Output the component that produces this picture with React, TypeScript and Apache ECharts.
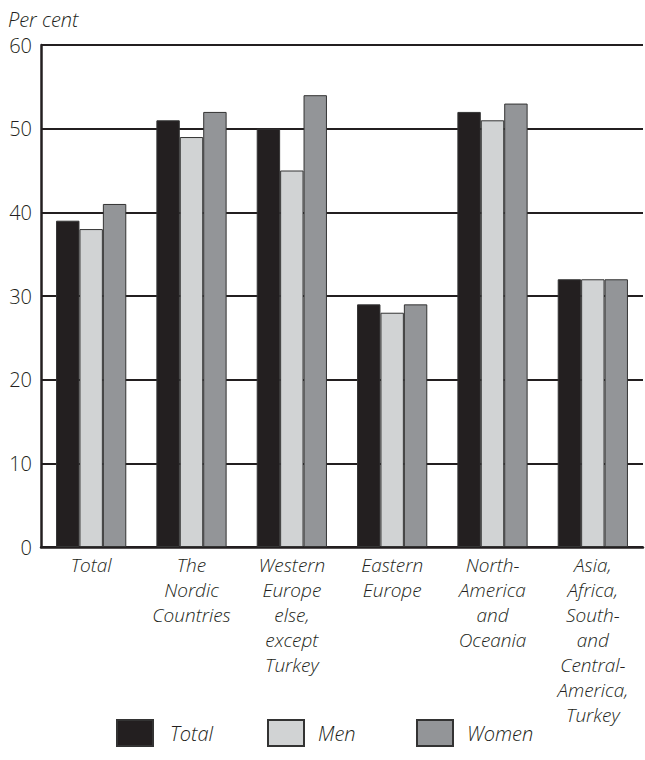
import React, { useEffect, useRef } from "react";
import * as echarts from "echarts";

const categories = [
  "Total",
  "The\nNordic\nCountries",
  "Western\nEurope\nelse,\nexcept\nTurkey",
  "Eastern\nEurope",
  "North-\nAmerica\nand\nOceania",
  "Asia,\nAfrica,\nSouth-\nand\nCentral-\nAmerica,\nTurkey",
];
const totalValues = [39, 51, 50, 29, 52, 32];
const menValues = [38, 49, 45, 28, 51, 32];
const womenValues = [41, 52, 54, 29, 53, 32];
const seriesNames = ["Total", "Men", "Women"];
const yTicks = { min: 0, max: 60, interval: 10 };

const FONT = "'Open Sans', 'Noto Sans', sans-serif";

export default function App() {
  const ref = useRef<HTMLDivElement>(null);
  useEffect(() => {
    document.body.style.margin = "0";
    const chart = echarts.init(ref.current!, null, { renderer: "svg" });
    const colors = ["#231f20", "#d1d3d4", "#939598"];
    const data = [totalValues, menValues, womenValues];
    const legendLefts = [116, 267, 416];
    chart.setOption({
      animation: false,
      backgroundColor: "#ffffff",
      textStyle: { fontFamily: FONT },
      graphic: [
        {
          type: "text",
          left: 8,
          top: 9,
          style: {
            text: "Per cent",
            font: `italic 300 20px ${FONT}`,
            fill: "#231f20",
          },
        },
      ],
      legend: seriesNames.map((name, i) => ({
        top: 719,
        left: legendLefts[i],
        padding: 0,
        itemWidth: 36,
        itemHeight: 26,
        icon: "rect",
        textStyle: {
          fontFamily: FONT,
          fontStyle: "italic",
          fontWeight: 300,
          fontSize: 20,
          color: "#231f20",
          padding: [0, 0, 0, i === 0 ? 12 : 9],
        },
        data: [name],
      })),
      grid: { left: 41, right: 2, top: 45, bottom: 213, containLabel: false },
      xAxis: {
        type: "category",
        data: categories,
        axisLine: { lineStyle: { color: "#231f20", width: 2.5 } },
        axisTick: { inside: true, length: 10, lineStyle: { color: "#231f20", width: 2 } },
        axisLabel: {
          interval: 0,
          margin: 5,
          fontFamily: FONT,
          fontStyle: "italic",
          fontWeight: 300,
          fontSize: 19,
          lineHeight: 25,
          color: "#231f20",
        },
      },
      yAxis: {
        type: "value",
        min: yTicks.min,
        max: yTicks.max,
        interval: yTicks.interval,
        axisLine: { show: true, lineStyle: { color: "#231f20", width: 2.5 } },
        axisTick: { show: false },
        splitLine: { lineStyle: { color: "#231f20", width: 2 } },
        axisLabel: {
          margin: 9,
          fontFamily: FONT,
          fontWeight: 300,
          fontSize: 20,
          color: "#231f20",
        },
      },
      series: seriesNames.map((name, i) => ({
        name,
        type: "bar",
        data: data[i],
        barGap: "0%",
        barCategoryGap: "30%",
        itemStyle: { color: colors[i], borderColor: "#333333", borderWidth: 1 },
      })),
    });
    return () => chart.dispose();
  }, []);
  return <div ref={ref} style={{ width: 645, height: 760 }} />;
}
